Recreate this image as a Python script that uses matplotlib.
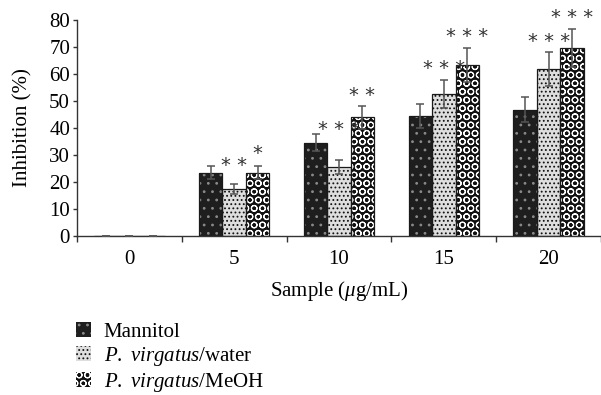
import matplotlib
matplotlib.use("Agg")
import matplotlib.pyplot as plt
from matplotlib.patches import Patch
import numpy as np

plt.rcParams['font.family'] = ['Liberation Serif', 'DejaVu Serif']
plt.rcParams['mathtext.fontset'] = 'custom'
plt.rcParams['mathtext.rm'] = 'Liberation Serif'
plt.rcParams['mathtext.it'] = 'Liberation Serif:italic'
plt.rcParams['hatch.linewidth'] = 0.8

categories = ['0', '5', '10', '15', '20']
series_names = ['Mannitol', r'$P.$ $virgatus$/water', r'$P.$ $virgatus$/MeOH']
mannitol = [0, 23.5, 34.5, 44.5, 46.8]
water = [0, 17.3, 25.5, 52.5, 62.0]
meoh = [0, 23.5, 44.0, 63.5, 69.5]
mannitol_err = [0, 2.5, 3.2, 4.4, 4.6]
water_err = [0, 1.8, 2.6, 5.2, 6.3]
meoh_err = [0, 2.5, 4.3, 6.3, 7.0]
# significance marks: (category index, series index, label, y value)
stars = [(1, 1, '* *', 26.0), (1, 2, '*', 30.5),
         (2, 1, '* * *', 39.5), (2, 2, '* *', 52.0),
         (3, 1, '* * *', 62.0), (3, 2, '* * *', 74.0),
         (4, 1, '* * *', 72.0), (4, 2, '* * *', 81.0)]

values = [mannitol, water, meoh]
errors = [mannitol_err, water_err, meoh_err]
faces = ['#1e1e1e', '#dedede', '#111111']
hatch_cols = ['#8a8a8a', '#111111', 'white']
hatches = ['..', '....', 'OO']

FS = 15
fig = plt.figure(figsize=(6.01, 3.95), dpi=100)
ax = fig.add_axes([77/601, 1-236/395, 1-77/601, 216/395])

x = np.arange(len(categories))
w = 0.224
for i in range(3):
    pos = x + (i - 1) * w
    ax.bar(pos, values[i], w, color=faces[i], edgecolor=hatch_cols[i],
           hatch=hatches[i], linewidth=0, zorder=2)
    ax.bar(pos, values[i], w, fill=False, edgecolor='#1a1a1a',
           linewidth=0.9, zorder=3)
    ax.errorbar(pos, values[i], yerr=errors[i], fmt='none', ecolor='#555555',
                elinewidth=1.1, capsize=3, capthick=1.1, zorder=4)

for ci, si, lab, yv in stars:
    ax.text(x[ci] + (si - 1) * w, yv, lab, ha='center', va='center',
            fontsize=14, color='#333333', family='DejaVu Sans', zorder=5,
            clip_on=False)

ax.set_xlim(-0.5, 4.5)
ax.set_ylim(0, 80)
ax.set_yticks(np.arange(0, 81, 10))
ax.set_xticks(np.arange(-0.5, 4.6, 1.0))
ax.set_xticklabels([])
ax.set_xticks(x, minor=True)
ax.set_xticklabels(categories, minor=True)
ax.tick_params(axis='x', which='major', direction='out', length=4, width=1, color='#333333')
ax.tick_params(axis='x', which='minor', length=0, pad=10, labelsize=FS)
ax.tick_params(axis='y', direction='out', length=3, width=1, color='#333333', labelsize=FS, pad=2)
for s in ['top', 'right']:
    ax.spines[s].set_visible(False)
for s in ['left', 'bottom']:
    ax.spines[s].set_color('#333333')
    ax.spines[s].set_linewidth(1.0)

ax.set_ylabel('Inhibition (%)', fontsize=FS)
ax.yaxis.set_label_coords(-45/524, 0.5)
ax.set_xlabel(r'Sample ($\mu$g/mL)', fontsize=FS, labelpad=7)

handles = [Patch(facecolor=faces[i], edgecolor=hatch_cols[i], hatch=hatches[i],
                 linewidth=0) for i in range(3)]
fig.legend(handles, series_names, loc='upper left',
           bbox_to_anchor=(76/601, 1-322/395), frameon=False, fontsize=FS,
           handlelength=0.72, handleheight=0.72, handletextpad=0.6,
           labelspacing=0.15, borderaxespad=0, borderpad=0)

fig.savefig('out.png', dpi=100)
